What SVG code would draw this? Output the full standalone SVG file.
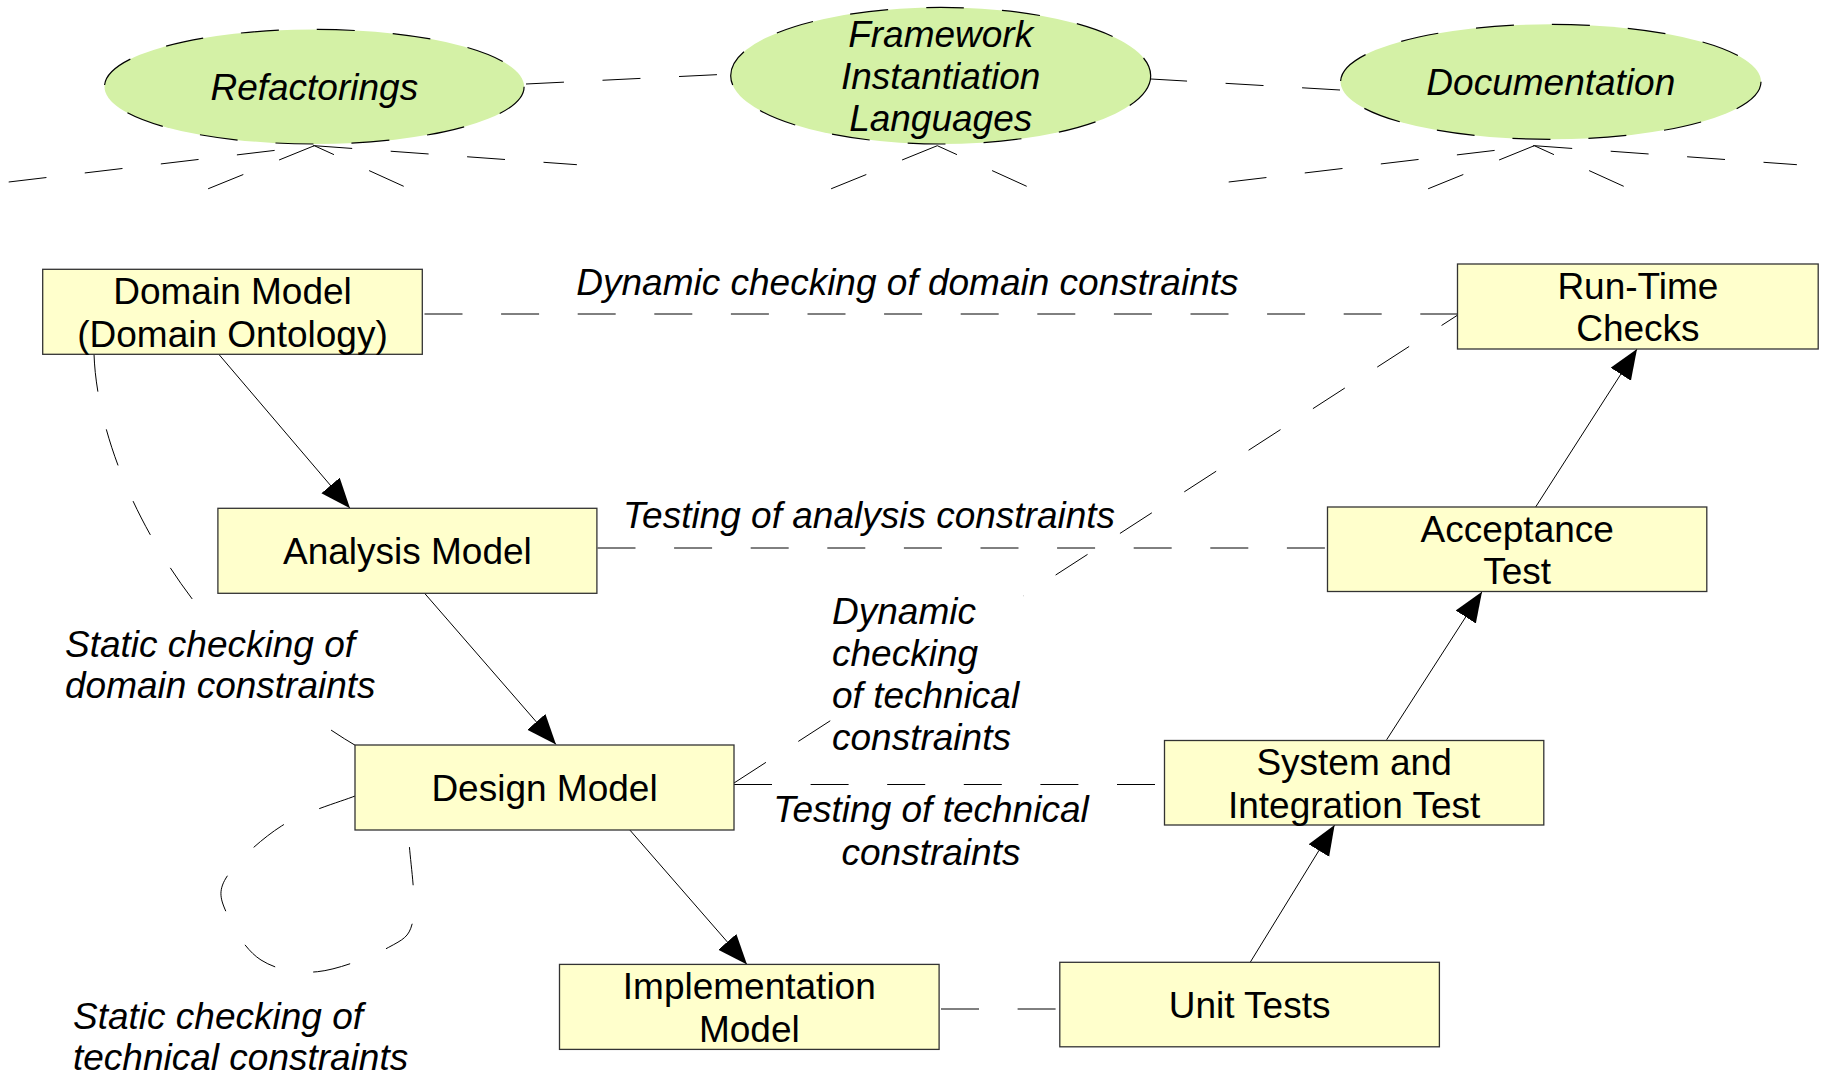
<svg xmlns="http://www.w3.org/2000/svg" width="1824" height="1074" viewBox="0 0 1824 1074">
<style>
  text { font-family: "Liberation Sans", Arial, sans-serif; font-size: 37px; fill: #000; }
  .it { font-style: italic; }
  .mid { text-anchor: middle; }
  .box { fill: #ffffcc; stroke: #333; stroke-width: 1.3; }
  .ell { fill: #d4f1a6; stroke: #000; stroke-width: 1.2; stroke-dasharray: 38 38; }
  .dash { fill: none; stroke: #000; stroke-width: 1; stroke-dasharray: 38 38.6; }
  .arrow { fill: none; stroke: #000; stroke-width: 1; marker-end: url(#ah); }
  .bg { fill: #fff; stroke: none; }
</style>
<defs>
  <marker id="ah" markerUnits="userSpaceOnUse" markerWidth="31" markerHeight="26" refX="30" refY="12" orient="auto">
    <path d="M0,0 L30,12 L0,24 z" fill="#000"/>
  </marker>
</defs>
<rect width="1824" height="1074" fill="#fff"/>

<g id="connectors">
  <!-- ornaments under ellipses -->
  <line class="dash" x1="8.7" y1="182" x2="314.3" y2="145.7"/>
  <line class="dash" x1="314.3" y1="145.7" x2="576.9" y2="164.7"/>
  <line class="dash" x1="314.3" y1="145.7" x2="207.6" y2="189"/>
  <line class="dash" x1="403.7" y1="186.3" x2="314.3" y2="145.7"/>

  <line class="dash" x1="937.3" y1="145.7" x2="830.6" y2="189"/>
  <line class="dash" x1="1026.7" y1="186.3" x2="937.3" y2="145.7"/>

  <line class="dash" x1="1228.7" y1="182" x2="1534.3" y2="145.7"/>
  <line class="dash" x1="1534.3" y1="145.7" x2="1796.9" y2="164.7"/>
  <line class="dash" x1="1534.3" y1="145.7" x2="1427.6" y2="189"/>
  <line class="dash" x1="1623.7" y1="186.3" x2="1534.3" y2="145.7"/>

  <!-- between ellipses -->
  <line class="dash" x1="526" y1="84" x2="730.5" y2="74"/>
  <line class="dash" x1="1340" y1="90" x2="1151" y2="79"/>

  <!-- main dashed relations -->
  <line class="dash" x1="424.5" y1="314" x2="1457.5" y2="314"/>
  <line class="dash" x1="597.5" y1="548" x2="1327.5" y2="548"/>
  <line class="dash" x1="734" y1="784.5" x2="1164.5" y2="784.5"/>
  <line class="dash" x1="941" y1="1009" x2="1059.8" y2="1009"/>
  <line class="dash" x1="734" y1="783" x2="1457" y2="315.5"/>
  <path class="dash" d="M94,354 C98,470 185,645 358,747"/>
  <path class="dash" d="M355,796 C342.75,801 303,812.3 281.5,826 C260,839.7 235,863.2 226,878 C217,892.8 221.6,901.3 227.4,915 C233.2,928.7 246,950.6 261,960 C276,969.5 296.2,973.8 317.5,971.7 C338.8,969.6 372.8,956 388.7,947.3 C404.7,938.6 409.8,936.6 413.2,919.3 C416.6,902 409.9,858.2 409.2,843.3 L409,830"/>

  <!-- solid arrows -->
  <line class="arrow" x1="219.4" y1="355" x2="350" y2="508.3"/>
  <line class="arrow" x1="424.6" y1="593.3" x2="556" y2="744.5"/>
  <line class="arrow" x1="629.3" y1="829.4" x2="747" y2="964.5"/>
  <line class="arrow" x1="1250.4" y1="962" x2="1334.6" y2="825"/>
  <line class="arrow" x1="1386.6" y1="739.8" x2="1482" y2="591.7"/>
  <line class="arrow" x1="1535.5" y1="507.2" x2="1637" y2="349"/>
</g>

<g id="refactorings">
  <ellipse class="ell" cx="314.3" cy="86.7" rx="209.8" ry="57.3"/>
  <text class="it mid" x="314.3" y="100">Refactorings</text>
</g>
<g id="framework">
  <ellipse class="ell" cx="940.7" cy="75.7" rx="210" ry="68.3"/>
  <text class="it mid" x="940.7" y="47">Framework</text>
  <text class="it mid" x="940.7" y="89">Instantiation</text>
  <text class="it mid" x="940.7" y="131">Languages</text>
</g>
<g id="documentation">
  <ellipse class="ell" cx="1550.8" cy="81.8" rx="210.2" ry="57.5"/>
  <text class="it mid" x="1550.8" y="95">Documentation</text>
</g>

<g id="domain-model">
  <rect class="box" x="42.7" y="269.3" width="379.6" height="85"/>
  <text class="mid" x="232.5" y="304">Domain Model</text>
  <text class="mid" x="232.5" y="346.5">(Domain Ontology)</text>
</g>
<g id="analysis-model">
  <rect class="box" x="217.9" y="508.3" width="379" height="85"/>
  <text class="mid" x="407.4" y="564">Analysis Model</text>
</g>
<g id="design-model">
  <rect class="box" x="355" y="745" width="379" height="85"/>
  <text class="mid" x="544.5" y="800.8">Design Model</text>
</g>
<g id="implementation-model">
  <rect class="box" x="559.5" y="964.4" width="379.6" height="85"/>
  <text class="mid" x="749.3" y="999">Implementation</text>
  <text class="mid" x="749.3" y="1041.5">Model</text>
</g>
<g id="unit-tests">
  <rect class="box" x="1059.8" y="962.3" width="379.6" height="84.5"/>
  <text class="mid" x="1249.6" y="1017.8">Unit Tests</text>
</g>
<g id="system-integration-test">
  <rect class="box" x="1164.5" y="740.5" width="379.3" height="84.5"/>
  <text class="mid" x="1354.1" y="775">System and</text>
  <text class="mid" x="1354.1" y="817.5">Integration Test</text>
</g>
<g id="acceptance-test">
  <rect class="box" x="1327.5" y="507" width="379.3" height="84.5"/>
  <text class="mid" x="1517.2" y="542">Acceptance</text>
  <text class="mid" x="1517.2" y="584">Test</text>
</g>
<g id="run-time-checks">
  <rect class="box" x="1457.5" y="264" width="360.7" height="85"/>
  <text class="mid" x="1637.9" y="298.6">Run-Time</text>
  <text class="mid" x="1637.9" y="341">Checks</text>
</g>

<g id="labels">
  <text class="it mid" x="907.4" y="295">Dynamic checking of domain constraints</text>
  <text class="it mid" x="869" y="528">Testing of analysis constraints</text>
  <rect class="bg" x="60" y="627" width="322" height="81"/>
  <text class="it" x="65" y="656.5">Static checking of</text>
  <text class="it" x="65" y="698">domain constraints</text>
  <rect class="bg" x="831" y="594" width="192" height="163"/>
  <text class="it" x="832" y="623.5">Dynamic</text>
  <text class="it" x="832" y="665.5">checking</text>
  <text class="it" x="832" y="707.5">of technical</text>
  <text class="it" x="832" y="749.5">constraints</text>
  <text class="it mid" x="931" y="822">Testing of technical</text>
  <text class="it mid" x="931" y="864.5">constraints</text>
  <text class="it" x="73" y="1029">Static checking of</text>
  <text class="it" x="73" y="1070">technical constraints</text>
</g>
</svg>
